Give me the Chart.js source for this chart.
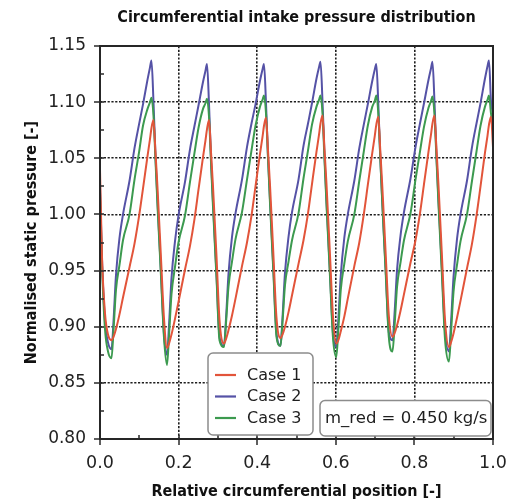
<!DOCTYPE html>
<html><head><meta charset="utf-8">
<script src="https://cdn.jsdelivr.net/npm/chart.js@4"></script>
<style>html,body{margin:0;padding:0;background:#fff}canvas{display:block}</style>
</head><body>
<canvas id="c" width="522" height="503"></canvas>
<script>
const chartTitle = 'Circumferential intake pressure distribution';
const xAxisTitle = 'Relative circumferential position [-]';
const yAxisTitle = 'Normalised static pressure [-]';
const seriesLabels = ['Case 1', 'Case 2', 'Case 3'];
const annotationText = 'm_red = 0.450 kg/s';
const xTickValues = [0.0, 0.2, 0.4, 0.6, 0.8, 1.0];
const yTickValues = [0.80, 0.85, 0.90, 0.95, 1.00, 1.05, 1.10, 1.15];
const xMinorTicks = [0.1, 0.3, 0.5, 0.7, 0.9];
const yMinorTicks = [0.825, 0.875, 0.925, 0.975, 1.025, 1.075, 1.125];

const positions = [0, 0.0051, 0.0127, 0.0204,
 0.0293, 0.0344, 0.0407, 0.0496, 0.0585, 0.0751, 0.0878, 0.0992, 0.1094, 0.1209, 0.1272, 0.1310, 0.1361, 0.1412, 0.1463, 0.1552, 0.1629,
 0.1705, 0.1756, 0.1819, 0.1908, 0.1997, 0.2163, 0.2290, 0.2405, 0.2506, 0.2621, 0.2684, 0.2723, 0.2774, 0.2824, 0.2875, 0.2964, 0.3041,
 0.3155, 0.3206, 0.3270, 0.3359, 0.3448, 0.3613, 0.3740, 0.3855, 0.3957, 0.4071, 0.4135, 0.4173, 0.4224, 0.4275, 0.4326, 0.4415, 0.4491,
 0.4593, 0.4644, 0.4707, 0.4797, 0.4886, 0.5051, 0.5178, 0.5293, 0.5394, 0.5509, 0.5573, 0.5611, 0.5662, 0.5712, 0.5763, 0.5852, 0.5929,
 0.6013, 0.6064, 0.6127, 0.6216, 0.6305, 0.6471, 0.6598, 0.6712, 0.6814, 0.6929, 0.6992, 0.7031, 0.7081, 0.7132, 0.7183, 0.7272, 0.7349,
 0.7443, 0.7494, 0.7557, 0.7646, 0.7735, 0.7901, 0.8028, 0.8142, 0.8244, 0.8359, 0.8422, 0.8460, 0.8511, 0.8562, 0.8613, 0.8702, 0.8779,
 0.8880, 0.8931, 0.8995, 0.9084, 0.9173, 0.9338, 0.9466, 0.9580, 0.9682, 0.9796, 0.9860, 0.9898, 0.9949, 1.0];

const case1 = [1.040, 0.962, 0.912, 0.893,
 0.888, 0.891, 0.898, 0.911, 0.926, 0.953, 0.974, 0.998, 1.023, 1.052, 1.067, 1.077, 1.084, 1.055, 1.024, 0.961, 0.907,
 0.881, 0.885, 0.893, 0.907, 0.922, 0.951, 0.972, 0.996, 1.022, 1.051, 1.066, 1.076, 1.084, 1.056, 1.025, 0.963, 0.906,
 0.885, 0.889, 0.897, 0.910, 0.925, 0.954, 0.975, 0.999, 1.025, 1.054, 1.069, 1.079, 1.086, 1.057, 1.026, 0.962, 0.908,
 0.890, 0.893, 0.900, 0.913, 0.928, 0.956, 0.977, 1.001, 1.027, 1.056, 1.071, 1.081, 1.088, 1.058, 1.027, 0.964, 0.909,
 0.885, 0.888, 0.896, 0.909, 0.925, 0.954, 0.975, 1.000, 1.026, 1.055, 1.070, 1.080, 1.087, 1.057, 1.025, 0.963, 0.910,
 0.891, 0.894, 0.901, 0.914, 0.929, 0.957, 0.977, 1.001, 1.027, 1.056, 1.071, 1.081, 1.088, 1.058, 1.026, 0.962, 0.906,
 0.882, 0.886, 0.894, 0.908, 0.923, 0.952, 0.974, 0.999, 1.025, 1.055, 1.070, 1.080, 1.087, 1.060];

const case2 = [1.025, 0.960, 0.905, 0.886,
 0.880, 0.905, 0.946, 0.979, 1.000, 1.030, 1.059, 1.080, 1.098, 1.120, 1.131, 1.137, 1.100, 1.052, 1.012, 0.948, 0.893,
 0.875, 0.901, 0.943, 0.976, 0.999, 1.029, 1.058, 1.079, 1.097, 1.118, 1.128, 1.134, 1.098, 1.050, 1.011, 0.947, 0.891,
 0.883, 0.907, 0.947, 0.980, 1.001, 1.031, 1.060, 1.081, 1.098, 1.119, 1.129, 1.134, 1.099, 1.052, 1.013, 0.949, 0.894,
 0.883, 0.908, 0.948, 0.980, 1.002, 1.031, 1.061, 1.081, 1.099, 1.121, 1.131, 1.136, 1.100, 1.053, 1.012, 0.948, 0.894,
 0.882, 0.906, 0.946, 0.979, 1.000, 1.030, 1.059, 1.080, 1.098, 1.119, 1.129, 1.134, 1.099, 1.051, 1.011, 0.949, 0.895,
 0.888, 0.911, 0.950, 0.981, 1.002, 1.032, 1.060, 1.081, 1.099, 1.120, 1.130, 1.136, 1.100, 1.052, 1.013, 0.950, 0.896,
 0.878, 0.903, 0.944, 0.978, 1.000, 1.030, 1.060, 1.081, 1.099, 1.121, 1.132, 1.137, 1.101, 1.090];

const case3 = [1.020, 0.955, 0.898, 0.878,
 0.872, 0.897, 0.933, 0.955, 0.977, 1.000, 1.031, 1.055, 1.079, 1.094, 1.100, 1.104, 1.088, 1.048, 1.008, 0.945, 0.890,
 0.866, 0.892, 0.929, 0.953, 0.975, 0.999, 1.029, 1.055, 1.077, 1.094, 1.099, 1.103, 1.087, 1.047, 1.007, 0.944, 0.888,
 0.882, 0.903, 0.936, 0.958, 0.978, 1.002, 1.031, 1.057, 1.079, 1.096, 1.102, 1.106, 1.090, 1.050, 1.010, 0.946, 0.891,
 0.883, 0.904, 0.937, 0.958, 0.977, 1.001, 1.032, 1.057, 1.080, 1.096, 1.102, 1.106, 1.090, 1.049, 1.009, 0.945, 0.890,
 0.873, 0.897, 0.933, 0.956, 0.976, 1.000, 1.030, 1.056, 1.079, 1.096, 1.101, 1.106, 1.090, 1.050, 1.010, 0.946, 0.891,
 0.878, 0.900, 0.935, 0.957, 0.977, 1.001, 1.031, 1.056, 1.078, 1.095, 1.101, 1.105, 1.089, 1.049, 1.009, 0.945, 0.889,
 0.869, 0.894, 0.931, 0.955, 0.976, 1.000, 1.030, 1.056, 1.079, 1.096, 1.102, 1.106, 1.090, 1.078];

const seriesColors = ['#e2543a', '#5552a6', '#3c9a4f'];
const drawOrder = [0, 2, 1];
const seriesValues = [case1, case2, case3];

const CONDENSED = '"DejaVu Sans Condensed", "DejaVu Sans", sans-serif';
const SANS = '"DejaVu Sans", sans-serif';

const toPoints = vals => positions.map((x, i) => ({x: x, y: vals[i]}));

const near = (a, b) => Math.abs(a - b) < 1e-6;

const decor = {
  id: 'decor',
  afterDatasetsDraw(chart) {
    const {ctx, chartArea: a, scales: {x, y}} = chart;
    ctx.save();
    // ticks
    ctx.strokeStyle = '#2a2a2a';
    ctx.lineWidth = 1.5;
    ctx.beginPath();
    xTickValues.forEach(v => { const p = Math.round(x.getPixelForValue(v)); ctx.moveTo(p, a.bottom + 6); ctx.lineTo(p, a.bottom - 4); });
    xMinorTicks.forEach(v => { const p = Math.round(x.getPixelForValue(v)); ctx.moveTo(p, a.bottom); ctx.lineTo(p, a.bottom - 4); });
    yTickValues.forEach(v => { const p = Math.round(y.getPixelForValue(v)); ctx.moveTo(a.left - 6, p); ctx.lineTo(a.left + 4, p); });
    yMinorTicks.forEach(v => { const p = Math.round(y.getPixelForValue(v)); ctx.moveTo(a.left, p); ctx.lineTo(a.left + 4, p); });
    ctx.stroke();
    // frame
    ctx.lineWidth = 2;
    ctx.strokeStyle = '#262626';
    ctx.strokeRect(a.left, a.top, a.right - a.left, a.bottom - a.top);

    // legend box
    const lx = a.left + 108, ly = a.top + 307, lw = 105, lh = 82;
    ctx.beginPath();
    ctx.roundRect(lx, ly, lw, lh, 5);
    ctx.fillStyle = '#ffffff';
    ctx.fill();
    ctx.lineWidth = 1.5;
    ctx.strokeStyle = '#8c8c8c';
    ctx.stroke();
    ctx.font = '16px ' + SANS;
    ctx.textBaseline = 'middle';
    ctx.textAlign = 'left';
    chart.data.datasets.forEach((ds, i) => {
      const cy = ly + 22 + i * 21.5;
      ctx.beginPath();
      ctx.strokeStyle = ds.borderColor;
      ctx.lineWidth = 2.2;
      ctx.moveTo(lx + 7, cy);
      ctx.lineTo(lx + 28, cy);
      ctx.stroke();
      ctx.fillStyle = '#1e1e1e';
      ctx.fillText(ds.label, lx + 39, cy + 0.5);
    });

    // annotation box
    const ax = a.left + 220, ay = a.top + 354.5, aw = 171, ah = 35.5;
    ctx.beginPath();
    ctx.roundRect(ax, ay, aw, ah, 5);
    ctx.fillStyle = '#ffffff';
    ctx.fill();
    ctx.lineWidth = 1.5;
    ctx.strokeStyle = '#8c8c8c';
    ctx.stroke();
    ctx.font = '16.5px ' + SANS;
    ctx.fillStyle = '#1e1e1e';
    ctx.fillText(annotationText, ax + 5, ay + ah / 2 + 0.5);
    ctx.restore();
  }
};

new Chart(document.getElementById('c'), {
  type: 'line',
  data: {
    datasets: seriesLabels.map((label, i) => ({
      label: label,
      data: toPoints(seriesValues[i]),
      borderColor: seriesColors[i],
      backgroundColor: seriesColors[i],
      order: drawOrder[i],
      fill: false
    }))
  },
  options: {
    responsive: false,
    animation: false,
    devicePixelRatio: 1,
    elements: {
      point: {radius: 0, hoverRadius: 0},
      line: {borderWidth: 2, cubicInterpolationMode: 'monotone'}
    },
    layout: {padding: {left: 0, right: 29, top: 0, bottom: 0}},
    plugins: {
      legend: {display: false},
      tooltip: {enabled: false},
      title: {
        display: true,
        text: chartTitle,
        fullSize: false,
        color: '#111',
        font: {family: CONDENSED, size: 16, weight: 'bold', lineHeight: 1.2},
        padding: {top: 8, bottom: 18.8}
      }
    },
    scales: {
      x: {
        type: 'linear',
        min: 0, max: 1,
        afterBuildTicks: s => { s.ticks = xTickValues.map(v => ({value: v})); },
        afterFit: s => { s.height = 64; },
        ticks: {
          callback: v => Number(v).toFixed(1),
          color: '#222',
          font: {family: SANS, size: 17.5},
          padding: 13.5,
          maxRotation: 0,
          autoSkip: false
        },
        grid: {
          drawTicks: false,
          lineWidth: 1.6,
          color: c => (c.tick && (near(c.tick.value, 0) || near(c.tick.value, 1))) ? 'rgba(0,0,0,0)' : '#1e1e1e'
        },
        border: {display: false, dash: [2.2, 1.6]},
        title: {
          display: true,
          text: xAxisTitle,
          color: '#111',
          font: {family: CONDENSED, size: 16, weight: 'bold', lineHeight: 1.2},
          padding: {top: 0, bottom: 1.5}
        }
      },
      y: {
        type: 'linear',
        min: 0.8, max: 1.15,
        afterBuildTicks: s => { s.ticks = yTickValues.map(v => ({value: v})); },
        afterFit: s => { s.width = 100; },
        ticks: {
          callback: v => Number(v).toFixed(2),
          color: '#222',
          font: {family: SANS, size: 17},
          padding: 14,
          autoSkip: false
        },
        grid: {
          drawTicks: false,
          lineWidth: 1.6,
          color: c => (c.tick && (near(c.tick.value, 0.8) || near(c.tick.value, 1.15))) ? 'rgba(0,0,0,0)' : '#1e1e1e'
        },
        border: {display: false, dash: [2.2, 1.6]},
        title: {
          display: true,
          text: yAxisTitle,
          color: '#111',
          font: {family: CONDENSED, size: 16, weight: 'bold', lineHeight: 1.2},
          padding: {top: 22, bottom: 0}
        }
      }
    }
  },
  plugins: [decor]
});
</script>
</body></html>
